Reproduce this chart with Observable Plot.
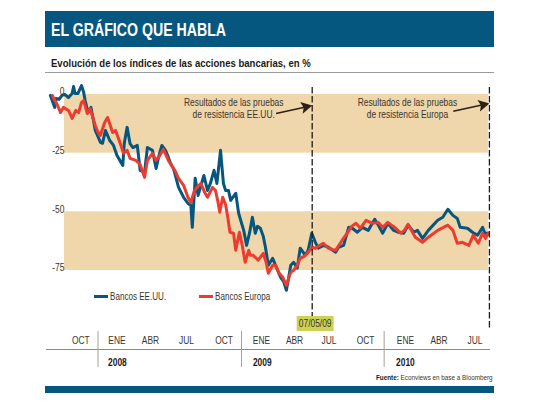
<!DOCTYPE html>
<html lang="es">
<head>
<meta charset="utf-8">
<script src="https://cdn.jsdelivr.net/npm/d3@7"></script>
<script src="https://cdn.jsdelivr.net/npm/@observablehq/plot@0.6"></script>
<style>
  html, body { margin: 0; padding: 0; background: #fff; }
  #page { position: relative; width: 540px; height: 405px; overflow: hidden;
          font-family: "Liberation Sans", sans-serif; color: #2b2620; }
  #banner { position: absolute; left: 45px; top: 11px; width: 449px; height: 36px; background: #05577f; }
  #title { position: absolute; left: 51px; top: 11px; height: 36px; line-height: 37px; margin: 0; white-space: nowrap;
           font-size: 18.5px; font-weight: 700; color: #fff; transform: scaleX(0.765); transform-origin: left center; }
  #subtitle { position: absolute; left: 51px; top: 55px; line-height: 16px; font-size: 11.8px; font-weight: 700; color: #1d1a16;
           white-space: nowrap; transform: scaleX(0.81); transform-origin: left center; }
  #rule { position: absolute; left: 45px; top: 72px; width: 449px; height: 1px; background: #9b9b9b; }
  #chart { position: absolute; left: 0; top: 75px; }
  .leg { position: absolute; top: 289px; line-height: 14px; font-size: 10.5px; color: #3a352d; white-space: nowrap;
         transform: scaleX(0.77); transform-origin: left center; }
  .sw { position: absolute; top: 294.5px; width: 14px; height: 3px; }
  #source { position: absolute; left: 376px; top: 372px; line-height: 11px; font-size: 8px; color: #3a352d; white-space: nowrap;
         transform: scaleX(0.79); transform-origin: left center; }
  #source b { color: #1d1a16; }
  #footer { position: absolute; left: 45px; top: 386px; width: 449px; height: 7px; background: #05577f; }
</style>
</head>
<body>
<div id="page">
  <div id="banner"></div>
  <h1 id="title">EL GRÁFICO QUE HABLA</h1>
  <div id="subtitle">Evolución de los índices de las acciones bancarias, en %</div>
  <div id="rule"></div>
  <div id="chart"></div>
  <div class="sw" style="left:94px;background:#05577f"></div>
  <div class="leg" style="left:110px">Bancos EE.UU.</div>
  <div class="sw" style="left:199px;background:#ee3b30"></div>
  <div class="leg" style="left:215px">Bancos Europa</div>
  <div id="source"><b>Fuente:</b> Econviews en base a Bloomberg</div>
  <div id="footer"></div>
</div>
<script>
const usYear = [2007.54,2007.57,2007.58,2007.60,2007.62,2007.64,2007.665,2007.69,2007.70,2007.71,2007.73,2007.755,2007.77,2007.78,2007.80,2007.82,2007.84,2007.85,2007.886,2007.90,2007.92,2007.95,2007.976,2008.00,2008.04,2008.05,2008.07,2008.09,2008.11,2008.14,2008.16,2008.19,2008.21,2008.245,2008.27,2008.29,2008.31,2008.335,2008.355,2008.37,2008.39,2008.425,2008.46,2008.49,2008.51,2008.52,2008.54,2008.56,2008.60,2008.625,2008.645,2008.67,2008.69,2008.715,2008.735,2008.75,2008.77,2008.785,2008.82,2008.84,2008.875,2008.895,2008.915,2008.935,2008.955,2008.97,2008.99,2009.01,2009.025,2009.045,2009.075,2009.095,2009.13,2009.15,2009.17,2009.20,2009.22,2009.245,2009.265,2009.30,2009.32,2009.345,2009.37,2009.39,2009.425,2009.46,2009.51,2009.53,2009.565,2009.60,2009.625,2009.66,2009.695,2009.735,2009.78,2009.805,2009.835,2009.87,2009.91,2009.945,2009.98,2010.01,2010.05,2010.075,2010.11,2010.15,2010.215,2010.25,2010.285,2010.32,2010.35,2010.37,2010.42,2010.455,2010.49,2010.525,2010.54,2010.565];
const usValue = [-0.4,-5.5,-1.7,-2.1,-0.4,0,-1.3,0.4,3.4,0.4,0.4,3.8,0.9,-2.6,-7.7,-5.5,-11.9,-15.3,-20.4,-20.8,-15.3,-19.6,-21.7,-26,-30.2,-20.9,-14,-20.9,-22.6,-21.7,-32.3,-33.2,-22.6,-23.8,-31.5,-26,-21.7,-23.8,-26.8,-29.4,-31.5,-39.6,-43.8,-46.4,-47.2,-56.6,-35.7,-43,-34.5,-40.9,-37.9,-32.3,-37.9,-23.8,-37.9,-40.9,-40.9,-45.1,-42.1,-50.6,-57.9,-64.3,-59.1,-52.3,-59.1,-56.2,-57,-60.4,-65.1,-72.8,-69.8,-72.8,-77.9,-79.6,-83.4,-72.8,-71.5,-74,-65.5,-68.5,-66.4,-59.1,-63,-65.5,-64.3,-65.1,-67.2,-65.1,-64.3,-56.6,-57,-58.7,-56.6,-57.9,-53.2,-55.7,-59.1,-54.9,-57.9,-58.7,-59.1,-55.7,-58.7,-57.9,-61.3,-57.9,-53.6,-52.3,-48.9,-51.5,-52.8,-56.6,-57,-58.7,-60,-56.6,-59.1,-59.1];
const euYear = [2007.555,2007.56,2007.59,2007.61,2007.63,2007.665,2007.69,2007.715,2007.735,2007.755,2007.77,2007.795,2007.815,2007.85,2007.87,2007.885,2007.915,2007.935,2007.97,2007.99,2008.02,2008.045,2008.07,2008.09,2008.13,2008.16,2008.19,2008.21,2008.245,2008.27,2008.295,2008.32,2008.355,2008.385,2008.40,2008.425,2008.46,2008.49,2008.51,2008.535,2008.56,2008.58,2008.605,2008.625,2008.66,2008.68,2008.695,2008.71,2008.73,2008.75,2008.765,2008.78,2008.805,2008.82,2008.845,2008.865,2008.885,2008.91,2008.92,2008.94,2008.975,2009.01,2009.03,2009.045,2009.075,2009.095,2009.12,2009.145,2009.17,2009.20,2009.22,2009.245,2009.265,2009.295,2009.315,2009.345,2009.37,2009.40,2009.425,2009.46,2009.51,2009.555,2009.59,2009.62,2009.65,2009.68,2009.72,2009.765,2009.805,2009.835,2009.87,2009.925,2009.96,2009.985,2010.01,2010.06,2010.11,2010.15,2010.215,2010.285,2010.32,2010.35,2010.385,2010.43,2010.46,2010.495,2010.525,2010.545,2010.565];
const euValue = [-0.4,-1.3,-4.7,-7.7,-5.5,-6.8,-10.2,-6.8,-7.7,-3.4,-2.6,-8.1,-6,-13.2,-16.2,-17.4,-11.9,-9.8,-16.2,-15.3,-20.4,-25.1,-23.8,-27.2,-28.1,-29.8,-35.3,-28.1,-25.1,-28.1,-26,-23.4,-28.1,-31.1,-32.3,-35.7,-38.7,-43.8,-46,-40.9,-39.1,-37.9,-41.7,-43.8,-39.6,-40.9,-45.1,-50.2,-43.8,-47,-52.3,-58.7,-59.1,-66.4,-58.7,-64.3,-71.5,-66.4,-68.5,-68.5,-70.6,-67.7,-71.5,-76.2,-72.8,-72.8,-76.2,-77.9,-81.3,-75.7,-74.9,-72.8,-69.8,-68.9,-67.7,-65.1,-65.5,-64.3,-63.4,-65.5,-66.4,-62.1,-59.1,-56.2,-54.9,-57,-53.6,-54.9,-54.5,-56.6,-54.5,-57,-59.1,-57.9,-55.3,-60.8,-63,-60.8,-57.9,-55.7,-57.9,-63.4,-63,-64.3,-60,-63.4,-59.1,-61.3,-59.1];

const bandTop = [0, -50];
const bandBottom = [-25, -75];
const bandStart = 2007.637;
const bandEnd = 2010.565;
const yTicks = [0, -25, -50, -75];
const yTickLabels = ["0", "-25", "-50", "-75"];
const monthPos = [2007.75,2008,2008.231,2008.48,2008.739,2008.998,2009.226,2009.464,2009.716,2009.992,2010.224,2010.472];
const monthLabels = ["OCT","ENE","ABR","JUL","OCT","ENE","ABR","JUL","OCT","ENE","ABR","JUL"];
const yearPos = [2008.003,2009.003,2009.992];
const yearLabels = ["2008","2009","2010"];
const yearSeparators = [2007.869,2008.86,2009.845];
const stressDates = [2009.348,2010.572];
const stressNotes = ["Resultados de las pruebas\nde resistencia EE.UU.","Resultados de las pruebas\nde resistencia Europa"];
const arrowLevel = [-4.7,-3.8];
const dateFlagLabel = "07/05/09";

const usColor = "#05577f", euColor = "#ee3b30", ink = "#3a352d";

const arrowShape = {
  draw(ctx, l) {
    ctx.moveTo(0, -l);
    ctx.lineTo(-6, -l + 11);
    ctx.lineTo(-0.8, -l + 9);
    ctx.lineTo(-0.8, 0);
    ctx.lineTo(0.8, 0);
    ctx.lineTo(0.8, -l + 9);
    ctx.lineTo(6, -l + 11);
    ctx.closePath();
  }
};

const plot = Plot.plot({
  width: 540, height: 295,
  marginLeft: 46, marginRight: 51, marginTop: 12, marginBottom: 21,
  x: {type: "linear", domain: [2008, 2010], range: [116.5, 406.1], axis: null},
  y: {domain: [0, -75], range: [19, 195], axis: null},
  style: {background: "transparent", overflow: "visible", fontFamily: '"Liberation Sans",sans-serif'},
  marks: [
    Plot.rectY(bandTop, {x1: bandStart, x2: bandEnd, y1: bandTop, y2: bandBottom, fill: "#f0d6ab"}),
    Plot.line(usValue, {x: usYear, y: usValue, stroke: usColor, strokeWidth: 3, strokeLinejoin: "round"}),
    Plot.line(euValue, {x: euYear, y: euValue, stroke: euColor, strokeWidth: 3, strokeLinejoin: "round"}),
    Plot.text(yTickLabels, {x: bandStart, y: yTicks, text: yTickLabels, textAnchor: "end", dy: -2.5, fontSize: 10.5, fill: ink}),
    Plot.ruleX([stressDates[0]], {stroke: "#1d1a16", strokeWidth: 1.3, strokeDasharray: "6.5 2.5", insetBottom: 31}),
    Plot.ruleX([stressDates[1]], {stroke: "#1d1a16", strokeWidth: 1.3, strokeDasharray: "6.5 2.5", insetBottom: 19}),
    Plot.text([stressNotes[0]], {x: stressDates[0], y: -6, text: d => d, dx: -78.5, textAnchor: "middle", fontSize: 10.5, lineHeight: 1.15, fill: ink}),
    Plot.text([stressNotes[1]], {x: stressDates[1], y: -6, text: d => d, dx: -82, textAnchor: "middle", fontSize: 10.5, lineHeight: 1.15, fill: ink}),
    Plot.vector(stressDates, {x: d => d, y: (d, i) => arrowLevel[i], length: 37, rotate: 77.7, anchor: "end", shape: arrowShape, fill: "#2b2118", stroke: "none"}),
    Plot.ruleX([stressDates[0]], {dx: 3, stroke: "#cdd255", strokeWidth: 37, insetTop: 229, insetBottom: 18}),
    Plot.text([dateFlagLabel], {x: stressDates[0], text: d => d, dx: 3, frameAnchor: "bottom", dy: -25.5, lineAnchor: "middle", fontSize: 10.5, fill: ink}),
    Plot.frame({anchor: "bottom", stroke: "#8f8a80", strokeWidth: 1}),
    Plot.ruleX(yearSeparators, {stroke: "#a5a199", strokeWidth: 1, insetTop: 244, insetBottom: -18}),
    Plot.text(monthLabels, {x: monthPos, text: monthLabels, frameAnchor: "bottom", dy: -9, lineAnchor: "middle", fontSize: 10.5, fill: ink}),
    Plot.text(yearLabels, {x: yearPos, text: yearLabels, frameAnchor: "bottom", dy: 13, lineAnchor: "middle", fontSize: 10.5, fontWeight: 700, fill: "#1d1a16"})
  ]
});
document.getElementById("chart").append(plot);
// Narrow the sans face: no condensed family is installed, so each label keeps its text and is squeezed horizontally.
const squeeze = 0.8;
plot.querySelectorAll("text").forEach(t => {
  const parts = t.querySelectorAll("tspan");
  (parts.length ? [...parts] : [t]).forEach(el => {
    el.setAttribute("textLength", (el.getComputedTextLength() * squeeze).toFixed(1));
    el.setAttribute("lengthAdjust", "spacingAndGlyphs");
  });
});
</script>
</body>
</html>
